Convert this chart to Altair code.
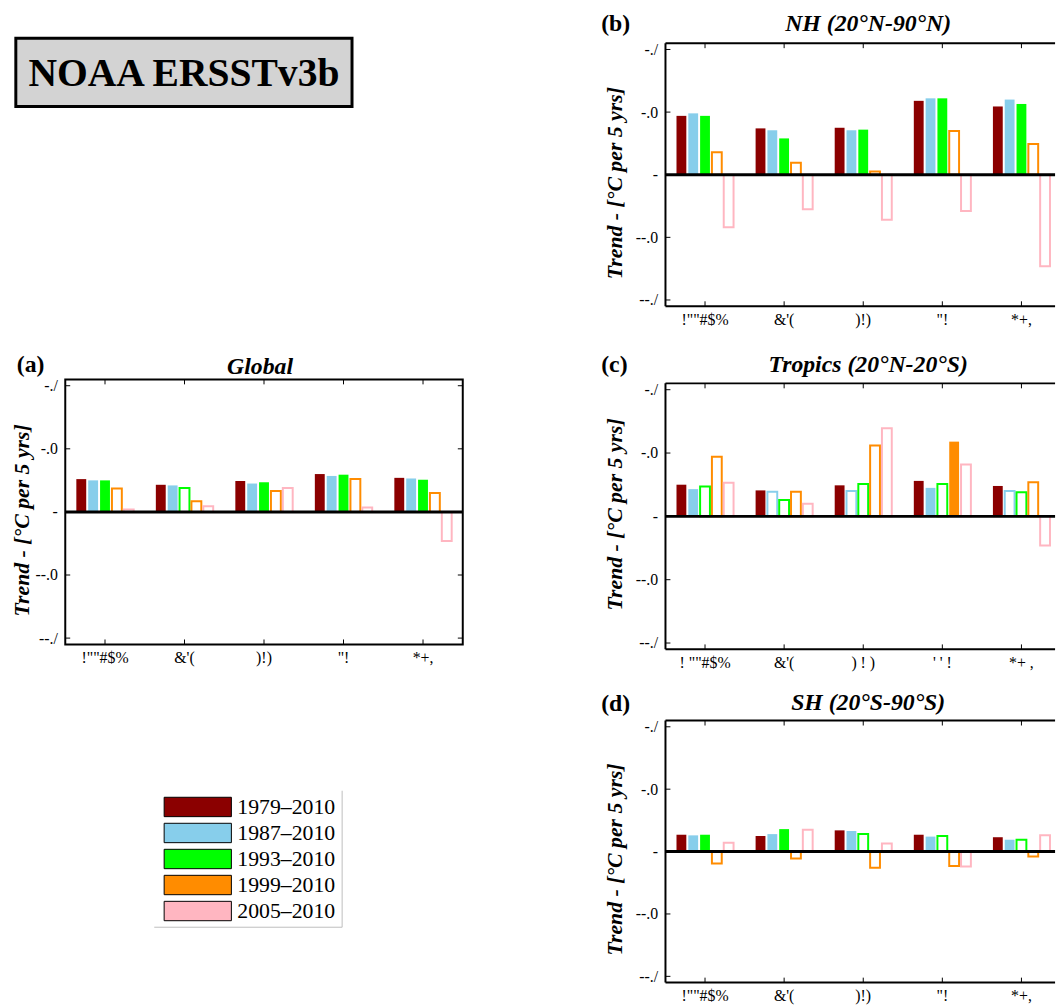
import json
import altair as alt
import pandas as pd

SERIF = "Liberation Serif"

CATEGORIES = ["Annual", "DJF", "MAM", "JJA", "SON"]
X_LABELS = ['!""#$%', "&'(", ")!)", '"!', "*+,"]
X_LABELS_TROPICS = ['! ""#$%', "&'(", ") ! )", "' ' !", "*+ ,"]
SERIES = ["1979–2010", "1987–2010", "1993–2010", "1999–2010", "2005–2010"]
COLORS = ["#8b0000", "#87ceeb", "#00ff00", "#ff8c00", "#ffb6c1"]
Y_TICKS = [0.2, 0.1, 0.0, -0.1, -0.2]
Y_TICK_LABELS = ["-./", "-.0", "-", "--.0", "--./"]
Y_TITLE = "Trend - [°C per 5 yrs]"

# rows = series (SERIES order), columns = seasons (CATEGORIES order)
GLOBAL_VALUES = [
    [0.052, 0.043, 0.049, 0.060, 0.054],
    [0.050, 0.042, 0.045, 0.057, 0.053],
    [0.050, 0.038, 0.047, 0.059, 0.051],
    [0.037, 0.017, 0.033, 0.052, 0.030],
    [0.004, 0.009, 0.038, 0.007, -0.046],
]
GLOBAL_FILLED = [
    [1, 1, 1, 1, 1],
    [1, 1, 1, 1, 1],
    [1, 0, 1, 1, 1],
    [0, 0, 0, 0, 0],
    [0, 0, 0, 0, 0],
]
NH_VALUES = [
    [0.094, 0.074, 0.075, 0.118, 0.109],
    [0.098, 0.071, 0.071, 0.122, 0.120],
    [0.094, 0.058, 0.072, 0.122, 0.113],
    [0.036, 0.019, 0.005, 0.070, 0.049],
    [-0.084, -0.055, -0.072, -0.058, -0.146],
]
NH_FILLED = [
    [1, 1, 1, 1, 1],
    [1, 1, 1, 1, 1],
    [1, 1, 1, 1, 1],
    [0, 0, 0, 0, 0],
    [0, 0, 0, 0, 0],
]
TROP_VALUES = [
    [0.050, 0.041, 0.049, 0.056, 0.048],
    [0.043, 0.039, 0.040, 0.045, 0.040],
    [0.047, 0.026, 0.051, 0.051, 0.038],
    [0.094, 0.039, 0.112, 0.118, 0.054],
    [0.053, 0.020, 0.139, 0.082, -0.046],
]
TROP_FILLED = [
    [1, 1, 1, 1, 1],
    [1, 0, 0, 1, 0],
    [0, 0, 0, 0, 0],
    [0, 0, 0, 1, 0],
    [0, 0, 0, 0, 0],
]
SH_VALUES = [
    [0.027, 0.025, 0.034, 0.027, 0.023],
    [0.026, 0.028, 0.033, 0.024, 0.019],
    [0.027, 0.036, 0.028, 0.025, 0.019],
    [-0.019, -0.011, -0.026, -0.023, -0.008],
    [0.014, 0.035, 0.013, -0.024, 0.026],
]
SH_FILLED = [
    [1, 1, 1, 1, 1],
    [1, 1, 1, 1, 1],
    [1, 1, 0, 0, 0],
    [0, 0, 0, 0, 0],
    [0, 0, 0, 0, 0],
]


def build_df(values, filled):
    rows = []
    for si, s in enumerate(SERIES):
        for ci, c in enumerate(CATEGORIES):
            rows.append({"cat": c, "series": s, "value": values[si][ci], "filled": filled[si][ci]})
    return pd.DataFrame(rows)


def y_label_expr():
    expr = json.dumps(Y_TICK_LABELS[-1])
    for v, lab in reversed(list(zip(Y_TICKS[:-1], Y_TICK_LABELS[:-1]))):
        expr = f"datum.value > {v - 0.05:.3f} ? {json.dumps(lab)} : ({expr})"
    return expr


def x_label_expr(labels):
    return f"{json.dumps(labels)}[indexof({json.dumps(CATEGORIES)}, datum.value)]"


color_scale = alt.Scale(domain=SERIES, range=COLORS)


def panel(values, filled, title, letter, W, H, labels, full_frame, xrange=None,
          title_x=200, title_y=-10, ytitle_x=-40, ytitle_y=None, letter_x=-65, letter_y=-18):
    df = build_df(values, filled)
    if xrange:
        x_scale = alt.Scale(domain=CATEGORIES, paddingInner=0, paddingOuter=0, range=[0, xrange])
    else:
        x_scale = alt.Scale(domain=CATEGORIES, paddingInner=0, paddingOuter=0)
    x_axis = alt.Axis(title=None, labelExpr=x_label_expr(labels), ticks=False, domain=False,
                      grid=False, labelAngle=0, labelFont=SERIF, labelFontSize=16,
                      labelPadding=5, labelColor="black")
    y_scale = alt.Scale(domain=[-0.21, 0.21], nice=False)
    y_axis = alt.Axis(title=Y_TITLE, values=Y_TICKS, labelExpr=y_label_expr(), ticks=False,
                      domain=False, grid=False, labelFont=SERIF, labelFontSize=16,
                      labelPadding=8, labelColor="black", titleFont=SERIF, titleFontSize=22,
                      titleFontStyle="italic", titleFontWeight="bold", titleColor="black",
                      titleX=ytitle_x, titleY=(ytitle_y if ytitle_y is not None else H / 2),
                      titleAngle=270, titleAlign="center", titleBaseline="alphabetic")
    xo_scale = alt.Scale(domain=SERIES, paddingInner=0.167, paddingOuter=0.933)

    enc = dict(
        x=alt.X("cat:N", scale=x_scale, axis=x_axis, sort=CATEGORIES),
        xOffset=alt.XOffset("series:N", scale=xo_scale, sort=SERIES),
        y=alt.Y("value:Q", scale=y_scale, axis=y_axis, stack=None),
        y2=alt.datum(0),
    )
    filled_bars = alt.Chart(df).transform_filter("datum.filled == 1").mark_bar().encode(
        fill=alt.Fill("series:N", scale=color_scale, legend=None), **enc)
    hollow_bars = alt.Chart(df).transform_filter("datum.filled == 0").mark_bar(
        fill="white", strokeWidth=2).encode(
        stroke=alt.Stroke("series:N", scale=color_scale, legend=None), **enc)

    zero = alt.Chart(pd.DataFrame({"value": [0.0]})).mark_rule(color="black", strokeWidth=3).encode(
        y=alt.Y("value:Q", scale=y_scale, axis=y_axis))

    ytick_df = pd.DataFrame({"value": Y_TICKS})
    yticks_left = alt.Chart(ytick_df).mark_rule(color="black", strokeWidth=1).encode(
        y=alt.Y("value:Q", scale=y_scale, axis=y_axis), x=alt.value(0), x2=alt.value(5))
    xtick_df = pd.DataFrame({"cat": CATEGORIES})
    xenc = alt.X("cat:N", scale=x_scale, axis=x_axis, sort=CATEGORIES, bandPosition=0.5)
    xticks_top = alt.Chart(xtick_df).mark_rule(color="black", strokeWidth=1).encode(
        x=xenc, y=alt.value(0), y2=alt.value(5))
    xticks_bot = alt.Chart(xtick_df).mark_rule(color="black", strokeWidth=1).encode(
        x=xenc, y=alt.value(H - 5), y2=alt.value(H))

    one = pd.DataFrame({"t": [letter], "title": [title]})
    layers = [filled_bars, hollow_bars, zero, yticks_left, xticks_top, xticks_bot]
    if full_frame:
        yticks_right = alt.Chart(ytick_df).mark_rule(color="black", strokeWidth=1).encode(
            y=alt.Y("value:Q", scale=y_scale, axis=y_axis), x=alt.value(W - 5), x2=alt.value(W))
        frame = alt.Chart(one).mark_rect(fillOpacity=0, stroke="black", strokeWidth=2).encode(
            x=alt.value(0), x2=alt.value(W), y=alt.value(0), y2=alt.value(H))
        layers += [yticks_right, frame]
    else:
        top = alt.Chart(one).mark_rule(color="black", strokeWidth=2).encode(
            x=alt.value(0), x2=alt.value(W), y=alt.value(0))
        bot = alt.Chart(one).mark_rule(color="black", strokeWidth=2).encode(
            x=alt.value(0), x2=alt.value(W), y=alt.value(H))
        left = alt.Chart(one).mark_rule(color="black", strokeWidth=2).encode(
            x=alt.value(0), y=alt.value(0), y2=alt.value(H))
        layers += [top, bot, left]
    letter_txt = alt.Chart(one).mark_text(font=SERIF, fontSize=24, fontWeight="bold",
                                          align="left", baseline="middle", color="black").encode(
        text="t:N", x=alt.value(letter_x), y=alt.value(letter_y))
    title_txt = alt.Chart(one).mark_text(font=SERIF, fontSize=24, fontWeight="bold",
                                         fontStyle="italic", align="center",
                                         baseline="alphabetic", color="black").encode(
        text="title:N", x=alt.value(title_x), y=alt.value(title_y))
    layers += [letter_txt, title_txt]

    return alt.layer(*layers).properties(width=W, height=H)


# ---- title box ----
title_df = pd.DataFrame({"t": ["NOAA ERSSTv3b"]})
title_box = alt.layer(
    alt.Chart(title_df).mark_rect(fill="#d3d3d3", stroke="black", strokeWidth=3).encode(
        x=alt.value(-50), x2=alt.value(290), y=alt.value(-5), y2=alt.value(64)),
    alt.Chart(title_df).mark_text(font=SERIF, fontSize=40, fontWeight="bold", color="black",
                                  align="center", baseline="middle").encode(
        text="t:N", x=alt.value(120), y=alt.value(31)),
).properties(width=290, height=64)

# ---- legend ----
leg_df = pd.DataFrame({"series": SERIES})
leg_y = alt.Y("series:N", axis=None, sort=SERIES,
              scale=alt.Scale(domain=SERIES, paddingInner=0.255, paddingOuter=0.25))
leg_one = pd.DataFrame({"t": [0]})
legend = alt.layer(
    alt.Chart(leg_df).mark_rect(stroke="black", strokeWidth=1).encode(
        y=leg_y, x=alt.value(100), x2=alt.value(168),
        fill=alt.Fill("series:N", scale=color_scale, legend=None)),
    alt.Chart(leg_df).mark_text(font=SERIF, fontSize=22, align="left", baseline="middle",
                                color="black").encode(
        y=leg_y, x=alt.value(174), text="series:N"),
    alt.Chart(leg_one).mark_rule(color="#bdbdbd", strokeWidth=1).encode(
        x=alt.value(280), y=alt.value(0), y2=alt.value(138)),
    alt.Chart(leg_one).mark_rule(color="#bdbdbd", strokeWidth=1).encode(
        x=alt.value(90), x2=alt.value(280), y=alt.value(138)),
).properties(width=281, height=138)

pa = panel(GLOBAL_VALUES, GLOBAL_FILLED, "Global", "(a)", 402, 268, X_LABELS, True,
           title_x=197, title_y=-5, ytitle_x=-37, ytitle_y=142, letter_x=-49, letter_y=-14)
pb = panel(NH_VALUES, NH_FILLED, "NH (20°N-90°N)", "(b)", 394, 266, X_LABELS, False,
           xrange=400, title_x=205, title_y=-12, ytitle_x=-44, ytitle_y=141, letter_y=-19)
pc = panel(TROP_VALUES, TROP_FILLED, "Tropics (20°N-20°S)", "(c)", 394, 269, X_LABELS_TROPICS, False,
           xrange=400, title_x=205, title_y=-12, ytitle_x=-44, ytitle_y=132, letter_y=-18)
pd_ = panel(SH_VALUES, SH_FILLED, "SH (20°S-90°S)", "(d)", 394, 265, X_LABELS, False,
            xrange=400, title_x=205, title_y=-11, ytitle_x=-44, ytitle_y=140, letter_y=-17)

left_col = alt.vconcat(
    alt.vconcat(title_box, pa, spacing=248).resolve_scale(x="independent", y="independent"),
    legend, spacing=126,
).resolve_scale(x="independent", y="independent")
right_col = alt.vconcat(
    alt.vconcat(pb, pc, spacing=26).resolve_scale(x="independent", y="independent", xOffset="independent"),
    pd_, spacing=21,
).resolve_scale(x="independent", y="independent", xOffset="independent")

chart = alt.hconcat(left_col, right_col, spacing=138).resolve_scale(
    x="independent", y="independent", xOffset="independent"
).properties(
    padding={"left": 10, "top": 7, "right": 0, "bottom": 0},
    background="white",
).configure_view(stroke=None)

chart.save("out.html", embed_options={"renderer": "svg", "actions": False})
